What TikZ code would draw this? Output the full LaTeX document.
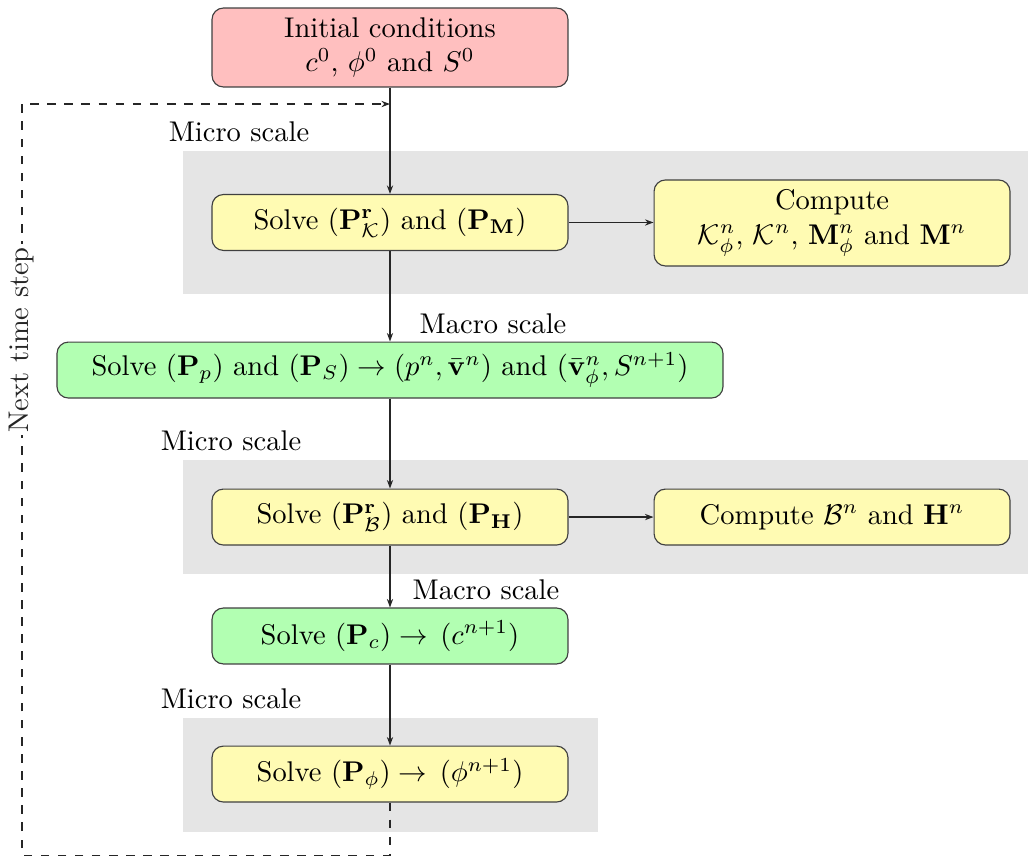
\documentclass[tikz,border=0pt]{standalone}
\usepackage{amsmath}
\usetikzlibrary{arrows.meta,positioning}

\begin{document}
\begin{tikzpicture}[scale=1,
    block/.style={rectangle,draw=black!75,rounded corners=4pt,minimum width=4.39cm,minimum height=0.69cm,align=center},
    microblock/.style={block,fill=yellow!30},
    macroblock/.style={block,fill=green!30},
    scalebg/.style={fill=gray!20},
    arrow/.style={-{Stealth[length=3pt,width=2.2pt]},black!85}
]
\useasboundingbox (0,0) rectangle (12.679,-10.570);

% === Scale backgrounds ===
\fill[scalebg] (2.257,-1.862) rectangle (12.679,-3.626);
\fill[scalebg] (2.257,-5.674) rectangle (12.679,-7.080);
\fill[scalebg] (2.257,-8.856) rectangle (7.376,-10.262);

% === Scale labels ===
\node (lmicroA) at (2.948,-1.628) {Micro scale};
\node (lmacroA) at (6.081,-3.996) {Macro scale};
\node (lmicroB) at (2.849,-5.439) {Micro scale};
\node (lmacroB) at (5.994,-7.277) {Macro scale};
\node (lmicroC) at (2.849,-8.621) {Micro scale};

% === Blocks ===
\node[block,fill=red!25,minimum height=0.974cm] (init) at (4.810,-0.586) {Initial conditions\\$c^0$, $\phi^0$ and $S^0$};
\node[microblock] (solveK) at (4.810,-2.744) {Solve $(\mathbf{P}^{\mathbf{r}}_{\mathcal{K}})$ and $(\mathbf{P}_{\mathbf{M}})$};
\node[microblock,minimum height=1.061cm] (compK) at (10.262,-2.750) {Compute\\$\mathcal{K}^n_\phi$, $\mathcal{K}^n$, $\mathbf{M}^n_\phi$ and $\mathbf{M}^n$};
\node[macroblock,minimum width=8.214cm] (solveS) at (4.810,-4.564) {Solve $(\mathbf{P}_p)$ and $(\mathbf{P}_S) \rightarrow (p^n,\bar{\mathbf{v}}^n)$ and $(\bar{\mathbf{v}}^n_\phi,S^{n+1})$};
\node[microblock] (solveB) at (4.810,-6.377) {Solve $(\mathbf{P}^{\mathbf{r}}_{\mathcal{B}})$ and $(\mathbf{P}_{\mathbf{H}})$};
\node[microblock] (compB) at (10.262,-6.377) {Compute $\mathcal{B}^n$ and $\mathbf{H}^n$};
\node[macroblock] (solveC) at (4.810,-7.844) {Solve $(\mathbf{P}_c) \rightarrow\, (c^{n+1})$};
\node[microblock] (solvePhi) at (4.810,-9.547) {Solve $(\mathbf{P}_\phi) \rightarrow\, (\phi^{n+1})$};

% === Arrows ===
\draw[arrow] (init) -- (solveK);
\draw[arrow] (solveK) -- (compK.west |- solveK);
\draw[arrow] (solveK) -- (solveS);
\draw[arrow] (solveS) -- (solveB);
\draw[arrow] (solveB) -- (compB);
\draw[arrow] (solveB) -- (solveC);
\draw[arrow] (solveC) -- (solvePhi);

% === Time loop ===
\coordinate (loopBL) at (0.271,-10.546);
\coordinate (loopTL) at (0.271,-1.283);
\draw[arrow,dashed] (solvePhi.south) |- (loopBL) -- node[pos=0.686,rotate=90,fill=white,inner sep=1pt] (lnext) {Next time step} (loopTL) -- (init.south |- loopTL);

\end{tikzpicture}
\end{document}
